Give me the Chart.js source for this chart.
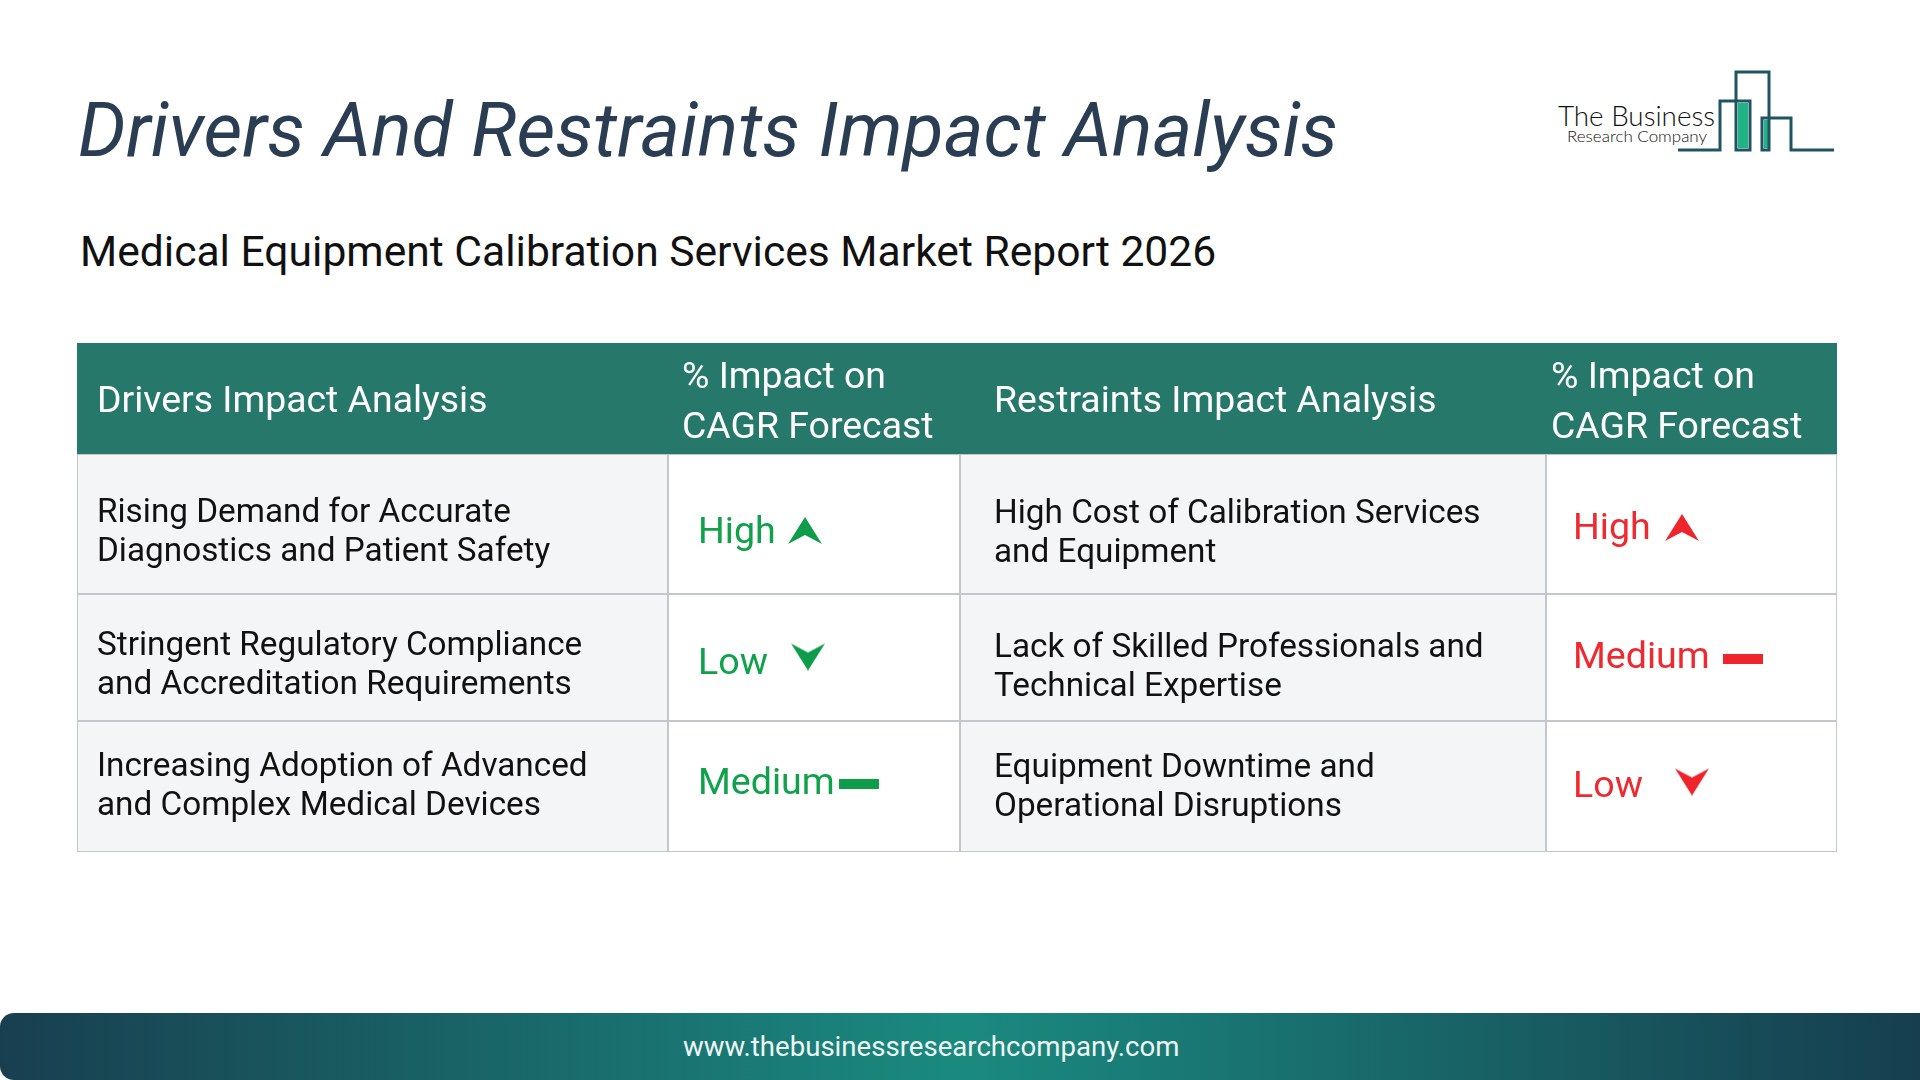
<!DOCTYPE html>
<html>
<head>
<meta charset="utf-8">
<title>Drivers And Restraints Impact Analysis</title>
<script src="https://cdn.jsdelivr.net/npm/chart.js@4"></script>
<style>
    html, body { margin: 0; width: 1920px; height: 1080px; background: #fff; overflow: hidden; font-family: Roboto, sans-serif; }
    #title { position: absolute; left: 78px; top: 86px; margin: 0; font-size: 75.45px; line-height: 88px; font-weight: 400; font-style: italic; color: #2a3d52; white-space: nowrap; }
    #subtitle { position: absolute; left: 80px; top: 226px; font-size: 42.6px; line-height: 50px; color: #111; white-space: nowrap; }
    #logo { position: absolute; left: 1500px; top: 50px; }
    #table-box { position: absolute; left: 67px; top: 333px; width: 1780px; height: 530px; }
    #footer { position: absolute; left: 0; top: 1013px; width: 1920px; height: 67px; border-radius: 14px 0 0 14px; background: linear-gradient(90deg, #183f4f 0%, #1a8a7f 50%, #163e4e 100%); }
    #footer span { position: absolute; left: 683px; top: 16px; font-size: 27.6px; line-height: 36px; color: #eef5f4; white-space: nowrap; }
</style>
</head>
<body>
<h1 id="title">Drivers And Restraints Impact Analysis</h1>
<div id="subtitle">Medical Equipment Calibration Services Market Report 2026</div>
<svg id="logo" width="400" height="120" viewBox="0 0 400 120">
    <rect x="238" y="53" width="10" height="45" fill="#1fb386"/>
    <rect x="264" y="70" width="4" height="28" fill="#1fb386"/>
    <polyline points="178,100 220,100 220,51 250,51 250,100 236,100 236,22 269,22 269,100 262,100 262,68 291,68 291,100 334,100" fill="none" stroke="#1e5560" stroke-width="3"/>
    <text x="58" y="76" font-family="Lato" font-weight="300" font-size="28" textLength="157" lengthAdjust="spacingAndGlyphs" fill="#111">The Business</text>
    <text x="67" y="92" font-family="Lato" font-weight="300" font-size="16" textLength="140" lengthAdjust="spacingAndGlyphs" fill="#111">Research Company</text>
</svg>
<div id="table-box"><canvas id="impact-table"></canvas></div>
<div id="footer"><span>www.thebusinessresearchcompany.com</span></div>

<script>
// -------------- Table content --------------
const headers = ["Drivers Impact Analysis", "% Impact on\nCAGR Forecast", "Restraints Impact Analysis", "% Impact on\nCAGR Forecast"];
const drivers = [
    "Rising Demand for Accurate\nDiagnostics and Patient Safety",
    "Stringent Regulatory Compliance\nand Accreditation Requirements",
    "Increasing Adoption of Advanced\nand Complex Medical Devices"
];
const driverImpact = ["High", "Low", "Medium"];
const restraints = [
    "High Cost of Calibration Services\nand Equipment",
    "Lack of Skilled Professionals and\nTechnical Expertise",
    "Equipment Downtime and\nOperational Disruptions"
];
const restraintImpact = ["High", "Medium", "Low"];

// -------------- Layout (axis units are table pixels) --------------
const colEdges = [0, 591, 883, 1469, 1760];
const rowEdges = [0, 111, 251, 378, 509];
const headerPad = [20, 14, 34, 5];
const headerNudge = [4, 5, 4, 5];
const bodyPad = [20, 34];
const impactPad = [30, 27];
// nudges per body row, from each cell centre
const driverNudge = { text: [10, 7, -2], mark: [7, -1, -3], body: [9, 9, 1] };
const restraintNudge = { text: [6, 1, 1], mark: [4, 1, -5], body: [10, 11, 2] };
const driverMarkX = [107, 110, 161];
const restraintMarkX = [109, 170, 119];

const lineHeight = 39;
const headerLineHeight = 49.5;
const green = '#0fa24a';
const red = '#ee2a30';
const markColors = { driver: '#0f9c4a', restraint: '#ee262c' };

const rowCenter = i => (rowEdges[i] + rowEdges[i + 1]) / 2;

// -------------- Impact marks as point images --------------
function makeMark(level, color) {
    const c = document.createElement('canvas');
    const g = c.getContext('2d');
    if (level === 'Medium') {
        c.width = 40; c.height = 10;
        g.fillStyle = color;
        g.fillRect(0, 0, 40, 10);
        return c;
    }
    c.width = 36; c.height = 28;
    g.fillStyle = color;
    g.beginPath();
    if (level === 'High') {
        g.moveTo(18, 0); g.lineTo(35, 27); g.lineTo(18, 18); g.lineTo(1, 27);
    } else {
        g.moveTo(18, 28); g.lineTo(35, 1); g.lineTo(18, 10); g.lineTo(1, 1);
    }
    g.closePath();
    g.fill();
    return c;
}

// -------------- One floating bar dataset per table row --------------
function rowDataset(i) {
    const isHeader = i === 0;
    return {
        type: 'bar',
        indexAxis: 'y',
        grouped: false,
        order: 2,
        barThickness: rowEdges[i + 1] - rowEdges[i],
        data: headers.map((h, c) => ({ x: [colEdges[c], colEdges[c + 1]], y: rowCenter(i) })),
        backgroundColor: isHeader ? '#26796a' : ['#f3f5f7', '#ffffff', '#f3f5f7', '#ffffff'],
        borderColor: isHeader ? '#26796a' : '#c3c6ca',
        borderWidth: isHeader ? 0 : 1,
        borderSkipped: false,
        inflateAmount: 0
    };
}

function markDataset(levels, column, offsets, nudge, color, pad) {
    return {
        type: 'scatter',
        order: 1,
        data: levels.map((level, i) => ({ x: colEdges[column] + pad + offsets[i], y: rowCenter(i + 1) + nudge.mark[i] })),
        pointStyle: levels.map(level => makeMark(level, color)),
        pointRadius: 10,
        pointHoverRadius: 10,
        pointBorderWidth: 0
    };
}

// -------------- Text of the cells, placed through the scales --------------
const cellText = {
    id: 'cellText',
    afterDatasetsDraw(chart) {
        const { ctx, scales: { x, y } } = chart;
        const put = (text, col, pad, centre, font, color, step) => {
            const lines = text.split('\n');
            ctx.font = font;
            ctx.fillStyle = color;
            ctx.textBaseline = 'middle';
            ctx.textAlign = 'left';
            lines.forEach((line, n) => {
                const v = centre + (n - (lines.length - 1) / 2) * step;
                ctx.fillText(line, x.getPixelForValue(colEdges[col] + pad), y.getPixelForValue(v));
            });
        };
        const headFont = '400 37.4px Roboto', bodyFont = '400 33.3px Roboto', impactFont = '400 37.6px Roboto';
        headers.forEach((h, c) => put(h, c, headerPad[c], rowCenter(0) + headerNudge[c], headFont, '#ffffff', headerLineHeight));
        drivers.forEach((t, i) => put(t, 0, bodyPad[0], rowCenter(i + 1) + driverNudge.body[i], bodyFont, '#111111', lineHeight));
        restraints.forEach((t, i) => put(t, 2, bodyPad[1], rowCenter(i + 1) + restraintNudge.body[i], bodyFont, '#111111', lineHeight));
        driverImpact.forEach((t, i) => put(t, 1, impactPad[0], rowCenter(i + 1) + driverNudge.text[i], impactFont, green, 0));
        restraintImpact.forEach((t, i) => put(t, 3, impactPad[1], rowCenter(i + 1) + restraintNudge.text[i], impactFont, red, 0));
    }
};

// -------------- Creating the chart --------------
const tableCanvas = document.getElementById('impact-table');
const impactTable = new Chart(tableCanvas, {
    type: 'bar',
    data: {
        datasets: [
            rowDataset(0), rowDataset(1), rowDataset(2), rowDataset(3),
            markDataset(driverImpact, 1, driverMarkX, driverNudge, markColors.driver, impactPad[0]),
            markDataset(restraintImpact, 3, restraintMarkX, restraintNudge, markColors.restraint, impactPad[1])
        ]
    },
    options: {
        responsive: true,
        maintainAspectRatio: false,
        animation: false,
        layout: { padding: 0 },
        plugins: { legend: { display: false }, tooltip: { enabled: false }, title: { display: false } },
        scales: {
            x: { type: 'linear', axis: 'x', min: 0, max: colEdges[4], display: false, offset: false },
            y: { type: 'linear', axis: 'y', min: 0, max: 510, reverse: true, display: false, offset: false }
        }
    },
    plugins: [cellText]
});
</script>
</body>
</html>
